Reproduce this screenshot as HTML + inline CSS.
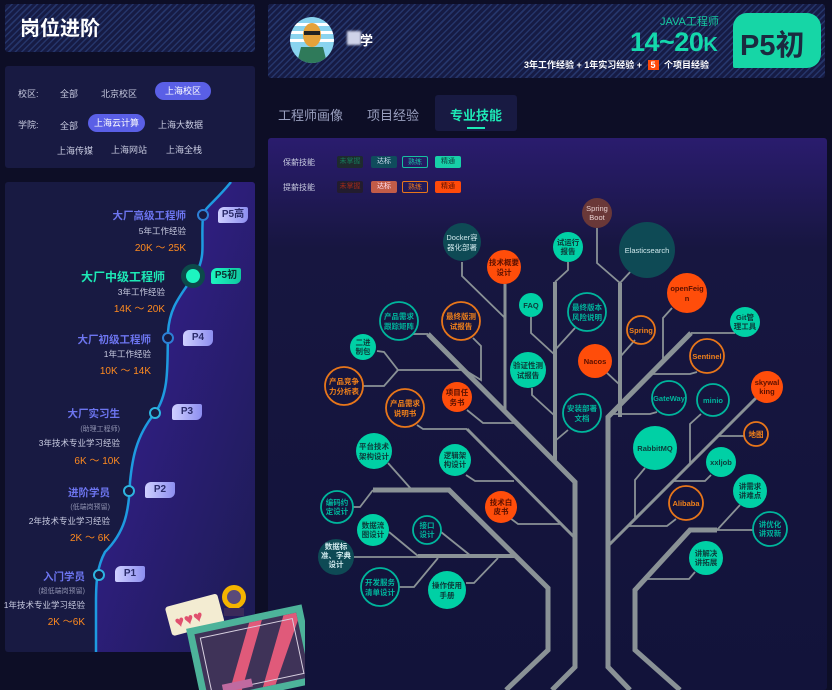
<!DOCTYPE html>
<html><head><meta charset="utf-8">
<style>
*{margin:0;padding:0;box-sizing:border-box}
body{width:832px;height:690px;background:#0d0e26;overflow:hidden;position:relative;font-family:"Liberation Sans","Noto Sans CJK SC",sans-serif;}
.abs{position:absolute}
.hatch{background:repeating-linear-gradient(135deg,#25356a 0 1.5px,#161b44 1.5px 4.5px);}
.panel{background:#181a42;}
.t{position:absolute;white-space:nowrap;font-size:9px;color:#c8cbe0}
.pill{position:absolute;background:#5a5fe6;color:#fff;border-radius:10px;font-size:9px;text-align:center;line-height:18px;height:18px}
.badge{position:absolute;width:30px;height:16px;border-radius:6px 2px 6px 2px;background:linear-gradient(90deg,#cfd0ff,#8d8ef0);color:#2a2b6a;font-size:10px;font-weight:bold;text-align:center;line-height:16px}
.r{text-align:right}
.ttl{color:#6d75f0;font-weight:bold;font-size:10.5px}
.sal{color:#ff8a1f;font-size:10px}
.sub{color:#8f92b0;font-size:7px}
.tag{position:absolute;height:12px;font-size:7px;line-height:12px;text-align:center;border-radius:2px;width:26px}
</style></head><body>

<!-- left title -->
<div class="abs hatch" style="left:5px;top:4px;width:250px;height:48px;border-radius:3px"></div>
<div class="t" style="left:20px;top:12px;font-size:20px;font-weight:bold;color:#fff">岗位进阶</div>

<!-- filters -->
<div class="abs panel" style="left:5px;top:66px;width:250px;height:102px;border-radius:3px"></div>
<div class="t" style="left:18px;top:87px">校区:</div>
<div class="t" style="left:60px;top:87px">全部</div>
<div class="t" style="left:101px;top:87px">北京校区</div>
<div class="pill" style="left:155px;top:82px;width:56px">上海校区</div>
<div class="t" style="left:18px;top:118px">学院:</div>
<div class="t" style="left:60px;top:119px">全部</div>
<div class="pill" style="left:88px;top:114px;width:57px">上海云计算</div>
<div class="t" style="left:158px;top:118px">上海大数据</div>
<div class="t" style="left:57px;top:144px">上海传媒</div>
<div class="t" style="left:111px;top:143px">上海网站</div>
<div class="t" style="left:166px;top:143px">上海全栈</div>

<!-- timeline panel -->
<div class="abs" style="left:5px;top:182px;width:250px;height:470px;border-radius:3px;background:#181a42;overflow:hidden">
<svg width="250" height="470" style="position:absolute;left:0;top:0">
<defs><linearGradient id="pg" x1="0" y1="0" x2="1" y2="1"><stop offset="0" stop-color="#3a1f9a"/><stop offset="1" stop-color="#1c1c52"/></linearGradient></defs>
<path d="M226,0 C210,20 200,25 198,33 C196,60 200,70 194,85 C180,110 165,120 163,150 C162,180 165,210 150,231 C130,255 127,280 125,300 C124,330 120,350 100,370 C92,385 91,400 91,420 L91,470 L250,470 L250,0 Z" fill="url(#pg)"/>
<path d="M226,0 C210,20 200,25 198,33 C196,60 200,70 194,85 C180,110 165,120 163,150 C162,180 165,210 150,231 C130,255 127,280 125,300 C124,330 120,350 100,370 C92,385 91,400 91,420 L91,470" fill="none" stroke="#1e9be0" stroke-width="2.5"/>
<circle cx="198" cy="33" r="5" fill="#181a42" stroke="#2d7fd6" stroke-width="2"/>
<circle cx="188" cy="94" r="12" fill="#0c4a4a"/><circle cx="188" cy="94" r="7" fill="#1df5c0"/>
<circle cx="163" cy="156" r="5" fill="#181a42" stroke="#2d7fd6" stroke-width="2"/>
<circle cx="150" cy="231" r="5" fill="#181a42" stroke="#2db4e0" stroke-width="2"/>
<circle cx="124" cy="309" r="5" fill="#181a42" stroke="#2db4e0" stroke-width="2"/>
<circle cx="94" cy="393" r="5" fill="#181a42" stroke="#2db4e0" stroke-width="2"/>
</svg>
</div>
<div class="badge" style="left:218px;top:207px">P5高</div>
<div class="badge" style="left:211px;top:268px;background:linear-gradient(90deg,#1df5c0,#10c8a0);color:#0b3030">P5初</div>
<div class="badge" style="left:183px;top:330px">P4</div>
<div class="badge" style="left:172px;top:404px">P3</div>
<div class="badge" style="left:145px;top:482px">P2</div>
<div class="badge" style="left:115px;top:566px">P1</div>

<div class="t r ttl" style="right:646px;top:208px">大厂高级工程师</div>
<div class="t r" style="right:646px;top:225px;font-size:8.5px">5年工作经验</div>
<div class="t r sal" style="right:646px;top:239px">20K ～ 25K</div>
<div class="t r" style="right:667px;top:268px;font-size:12px;font-weight:bold;color:#1de9b6">大厂中级工程师</div>
<div class="t r" style="right:667px;top:286px;font-size:8.5px">3年工作经验</div>
<div class="t r sal" style="right:667px;top:300px">14K ～ 20K</div>
<div class="t r ttl" style="right:681px;top:332px">大厂初级工程师</div>
<div class="t r" style="right:681px;top:348px;font-size:8.5px">1年工作经验</div>
<div class="t r sal" style="right:681px;top:362px">10K ～ 14K</div>
<div class="t r ttl" style="right:712px;top:406px">大厂实习生</div>
<div class="t r sub" style="right:712px;top:424px">(助理工程师)</div>
<div class="t r" style="right:712px;top:437px;font-size:8.5px">3年技术专业学习经验</div>
<div class="t r sal" style="right:712px;top:452px">6K ～ 10K</div>
<div class="t r ttl" style="right:722px;top:485px">进阶学员</div>
<div class="t r sub" style="right:722px;top:502px">(低端岗预留)</div>
<div class="t r" style="right:722px;top:515px;font-size:8.5px">2年技术专业学习经验</div>
<div class="t r sal" style="right:722px;top:529px">2K ～ 6K</div>
<div class="t r ttl" style="right:747px;top:569px">入门学员</div>
<div class="t r sub" style="right:747px;top:586px">(超低端岗预留)</div>
<div class="t r" style="right:747px;top:599px;font-size:8.5px">1年技术专业学习经验</div>
<div class="t r sal" style="right:747px;top:613px">2K ～6K</div>

<!-- right header -->
<div class="abs hatch" style="left:268px;top:4px;width:557px;height:74px;border-radius:3px"></div>
<svg class="abs" style="left:289px;top:17px" width="46" height="46">
<defs><clipPath id="av"><ellipse cx="23" cy="23" rx="22" ry="23"/></clipPath></defs>
<g clip-path="url(#av)"><rect width="46" height="46" fill="#8ad4ef"/>
<rect y="6" width="46" height="3" fill="#fff"/><rect y="14" width="46" height="3" fill="#fff"/><rect y="22" width="46" height="3" fill="#fff"/>
<path d="M8,46 L12,30 L34,30 L38,46Z" fill="#2f7a5a"/><ellipse cx="23" cy="18" rx="9" ry="12" fill="#e5a23a"/><rect x="15" y="14" width="16" height="4" fill="#222"/></g>
</svg>
<div class="abs" style="left:347px;top:31px;width:14px;height:14px;background:#cfd3e8;filter:blur(1px)"></div>
<div class="t" style="left:360px;top:30px;font-size:13px;color:#fff;font-weight:bold">学</div>
<div class="t" style="left:660px;top:13px;font-size:11px;color:#14c9a0">JAVA工程师</div>
<div class="t" style="left:630px;top:27px;font-size:27px;color:#14d8ac;font-weight:bold;letter-spacing:-0.5px">14~20<span style="font-size:20px">K</span></div>
<div class="t" style="left:524px;top:58px;font-size:9px;color:#fff;font-weight:bold">3年工作经验 + 1年实习经验 + <span style="background:#ff4a0a;padding:0 3px;margin:0 3px">5</span> 个项目经验</div>
<div class="abs" style="left:733px;top:13px;width:88px;height:55px;background:#16d6a6;border-radius:14px 14px 14px 2px"></div>
<div class="t" style="left:740px;top:22px;font-size:29px;font-weight:bold;color:#1b2a40">P5初</div>

<!-- tabs -->
<div class="t" style="left:278px;top:105px;font-size:13px;color:#9aa0c0">工程师画像</div>
<div class="t" style="left:367px;top:105px;font-size:13px;color:#9aa0c0">项目经验</div>
<div class="abs" style="left:435px;top:95px;width:82px;height:36px;background:#181a42;border-radius:3px"></div>
<div class="t" style="left:450px;top:105px;font-size:13px;color:#1de9b6;font-weight:bold">专业技能</div>
<div class="abs" style="left:467px;top:127px;width:18px;height:2px;background:#1de9b6"></div>

<!-- tree panel -->
<div class="abs" style="left:268px;top:138px;width:559px;height:552px;border-radius:3px;background:linear-gradient(180deg,#2a1c6e 0%,#171640 20%,#12133a 100%)"></div>
<div class="t" style="left:283px;top:157px;font-size:8px">保薪技能</div>
<div class="tag" style="left:337px;top:156px;background:#1e2a2e;color:#167a5a">未掌握</div>
<div class="tag" style="left:371px;top:156px;background:#0f4c5c;color:#cde">达标</div>
<div class="tag" style="left:402px;top:156px;border:1px solid #17c0a0;color:#17c0a0">熟练</div>
<div class="tag" style="left:435px;top:156px;background:#17d0a8;color:#0b3a3a">精通</div>
<div class="t" style="left:283px;top:182px;font-size:8px">提薪技能</div>
<div class="tag" style="left:337px;top:181px;background:#221c2e;color:#a02a1a">未掌握</div>
<div class="tag" style="left:371px;top:181px;background:#c25c48;color:#fde">达标</div>
<div class="tag" style="left:402px;top:181px;border:1px solid #e8761a;color:#e8761a">熟练</div>
<div class="tag" style="left:435px;top:181px;background:#ff4a0a;color:#5a1000">精通</div>

<svg class="abs" style="left:0;top:0" width="832" height="690" font-family="Liberation Sans, Noto Sans CJK SC, sans-serif" font-weight="bold" text-anchor="middle">
<g fill="none" stroke="#8a9296" stroke-linejoin="miter">
<path d="M428,334 L575,482 L575,667 L552,690" stroke-width="5"/>
<path d="M373,490 L449,490 L548,588 L548,650 L506,690" stroke-width="5"/>
<path d="M691,333 L608,417 L608,667 L630,690" stroke-width="5"/>
<path d="M717,530 L690,530 L635,590 L635,650 L680,690" stroke-width="5"/>
<path d="M620,283 L620,417" stroke-width="4"/>
<path d="M555,282 L555,460" stroke-width="4"/>
<path d="M609,545 L758,396" stroke-width="3"/>
<path d="M467,429 L574,537" stroke-width="3"/>
<path d="M418,556 L514,556" stroke-width="4"/>
<path d="M505,284 L505,410" stroke-width="3"/>
<g stroke-width="1.8">
<path d="M462,262 L462,276 L505,318"/>
<path d="M413,334 L428,334"/>
<path d="M473,338 L481,346 L481,380 L463,369"/>
<path d="M377,351 L384,352 L398,370 L463,370"/>
<path d="M363,386 L384,386 L398,370"/>
<path d="M467,410 L483,423 L517,423"/>
<path d="M417,425 L423,429 L467,429"/>
<path d="M531,317 L531,333 L555,355"/>
<path d="M532,388 L532,395 L555,416"/>
<path d="M568,430 L555,441"/>
<path d="M575,328 L555,350"/>
<path d="M568,262 L568,270 L555,282"/>
<path d="M597,228 L597,263 L620,283"/>
<path d="M632,270 L620,283"/>
<path d="M635,340 L620,357"/>
<path d="M606,372 L620,385"/>
<path d="M672,308 L663,318 L663,362"/>
<path d="M735,333 L691,333"/>
<path d="M697,372 L690,374 L652,374"/>
<path d="M657,412 L650,414 L610,414"/>
<path d="M701,414 L690,424 L690,463"/>
<path d="M744,436 L718,436"/>
<path d="M645,468 L635,480 L635,519"/>
<path d="M711,475 L705,481 L672,481"/>
<path d="M676,519 L667,526 L628,526"/>
<path d="M740,505 L717,530 L753,530"/>
<path d="M695,572 L689,579 L645,579"/>
<path d="M388,463 L412,490"/>
<path d="M353,507 L360,507 L373,490"/>
<path d="M466,475 L475,481 L514,481"/>
<path d="M510,518 L518,524 L560,524"/>
<path d="M389,532 L418,556"/>
<path d="M441,532 L471,556"/>
<path d="M354,557 L418,557"/>
<path d="M399,587 L414,587 L438,558"/>
<path d="M466,583 L474,583 L498,558"/>
</g></g>

<g font-size="7.5">
<circle cx="462" cy="242" r="19" fill="#0e4a55"/><text x="462" y="240" fill="#cfe8ec" font-weight="normal">Docker容</text><text x="462" y="250" fill="#cfe8ec" font-weight="normal">器化部署</text>
<circle cx="647" cy="250" r="28" fill="#0e4a55"/><text x="647" y="253" fill="#cfe8ec" font-weight="normal">Elasticsearch</text>
<circle cx="336" cy="557" r="18" fill="#0e4a55"/><text x="336" y="549" fill="#cfe8ec">数据标</text><text x="336" y="558" fill="#cfe8ec">准、字典</text><text x="336" y="567" fill="#cfe8ec">设计</text>
<circle cx="597" cy="213" r="15" fill="#6a3838"/><text x="597" y="211" fill="#e8d0d0" font-weight="normal">Spring</text><text x="597" y="220" fill="#e8d0d0" font-weight="normal">Boot</text>
<g fill="#ff4d0a">
<circle cx="504" cy="267" r="17"/><circle cx="457" cy="397" r="15"/><circle cx="687" cy="293" r="20"/><circle cx="595" cy="361" r="17"/><circle cx="767" cy="387" r="16"/><circle cx="501" cy="507" r="16"/>
</g>
<g fill="#5a1000">
<text x="504" y="265">技术概要</text><text x="504" y="275">设计</text>
<text x="457" y="395">项目任</text><text x="457" y="405">务书</text>
<text x="687" y="291">openFeig</text><text x="687" y="301">n</text>
<text x="595" y="364">Nacos</text>
<text x="767" y="385">skywal</text><text x="767" y="394">king</text>
<text x="501" y="505">技术白</text><text x="501" y="514">皮书</text>
</g>
<g fill="none" stroke="#e8761a" stroke-width="1.8">
<circle cx="461" cy="321" r="19"/><circle cx="344" cy="386" r="19"/><circle cx="405" cy="408" r="19"/><circle cx="641" cy="330" r="14"/><circle cx="707" cy="356" r="17"/><circle cx="756" cy="434" r="12"/><circle cx="686" cy="503" r="17"/>
</g>
<g fill="#f0801a">
<text x="461" y="319">最终版测</text><text x="461" y="329">试报告</text>
<text x="344" y="384">产品竞争</text><text x="344" y="394">力分析表</text>
<text x="405" y="406">产品需求</text><text x="405" y="416">说明书</text>
<text x="641" y="333">Spring</text>
<text x="707" y="359">Sentinel</text>
<text x="756" y="437">地图</text>
<text x="686" y="506">Alibaba</text>
</g>
<g fill="#00d0a5">
<circle cx="531" cy="305" r="12"/><circle cx="363" cy="347" r="13"/><circle cx="528" cy="370" r="18"/><circle cx="568" cy="247" r="15"/><circle cx="745" cy="322" r="15"/><circle cx="374" cy="451" r="18"/><circle cx="455" cy="460" r="16"/><circle cx="655" cy="448" r="22"/><circle cx="721" cy="462" r="15"/><circle cx="750" cy="491" r="17"/><circle cx="373" cy="530" r="16"/><circle cx="706" cy="558" r="17"/><circle cx="447" cy="590" r="19"/>
</g>
<g fill="#0c3b3a">
<text x="531" y="308">FAQ</text>
<text x="363" y="345">二进</text><text x="363" y="354">制包</text>
<text x="528" y="368">验证性测</text><text x="528" y="378">试报告</text>
<text x="568" y="245">试运行</text><text x="568" y="254">报告</text>
<text x="745" y="320">Git管</text><text x="745" y="329">理工具</text>
<text x="374" y="449">平台技术</text><text x="374" y="459">架构设计</text>
<text x="455" y="458">逻辑架</text><text x="455" y="467">构设计</text>
<text x="655" y="451">RabbitMQ</text>
<text x="721" y="465">xxljob</text>
<text x="750" y="489">讲需求</text><text x="750" y="498">讲难点</text>
<text x="373" y="528">数据流</text><text x="373" y="537">图设计</text>
<text x="706" y="556">讲解决</text><text x="706" y="565">讲拓展</text>
<text x="447" y="588">操作使用</text><text x="447" y="598">手册</text>
</g>
<g fill="none" stroke="#00b59c" stroke-width="1.8">
<circle cx="399" cy="321" r="19"/><circle cx="587" cy="312" r="19"/><circle cx="582" cy="413" r="19"/><circle cx="669" cy="398" r="17"/><circle cx="713" cy="400" r="16"/><circle cx="337" cy="507" r="16"/><circle cx="427" cy="530" r="14"/><circle cx="770" cy="529" r="17"/><circle cx="380" cy="587" r="19"/>
</g>
<g fill="#00b59c">
<text x="399" y="319">产品需求</text><text x="399" y="329">跟踪矩阵</text>
<text x="587" y="310">最终版本</text><text x="587" y="320">风险说明</text>
<text x="582" y="411">安装部署</text><text x="582" y="421">文档</text>
<text x="669" y="401">GateWay</text>
<text x="713" y="403">minio</text>
<text x="337" y="505">编码约</text><text x="337" y="514">定设计</text>
<text x="427" y="528">接口</text><text x="427" y="537">设计</text>
<text x="770" y="527">讲优化</text><text x="770" y="536">讲双新</text>
<text x="380" y="585">开发服务</text><text x="380" y="595">清单设计</text>
</g>
</g>
</svg>

<!-- monitor illustration (on top) -->
<svg class="abs" style="left:160px;top:580px" width="145" height="110">
<rect x="8" y="20" width="54" height="30" rx="3" fill="#f3ecd2" transform="rotate(-15 34 36)"/>
<text x="14" y="43" font-size="16" fill="#e0506e" transform="rotate(-15 34 36)">♥♥♥</text>
<circle cx="74" cy="17" r="12" fill="#f4b400"/><circle cx="74" cy="17" r="7" fill="#5a4a7a"/>
<rect x="64" y="28" width="20" height="8" fill="#3a2a5a"/>
<g transform="rotate(-12 95 70)">
<rect x="32" y="35" width="118" height="80" fill="#4db39a"/>
<rect x="39" y="42" width="104" height="66" fill="#3f3358"/>
<path d="M60,108 L95,42 L108,42 L73,108Z M95,108 L130,42 L143,42 L143,50 L108,108Z" fill="#e05a7a"/>
<rect x="44" y="47" width="94" height="56" fill="none" stroke="#d8d0e0" stroke-width="1"/>
</g>
<rect x="62" y="102" width="30" height="8" fill="#c06aa0" transform="rotate(-12 75 104)"/>
</svg>
</body></html>
